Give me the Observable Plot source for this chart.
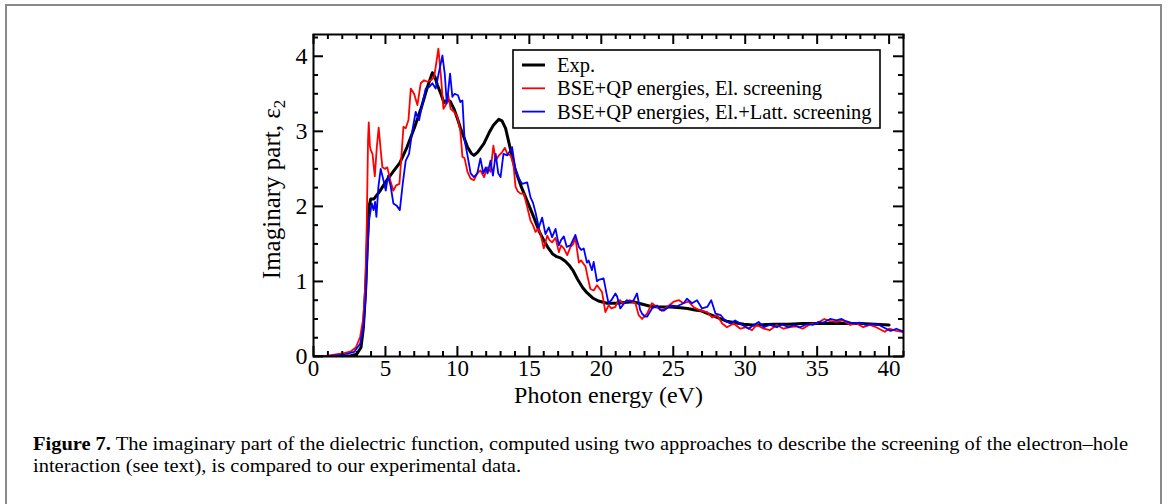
<!DOCTYPE html>
<html>
<head>
<meta charset="utf-8">
<script src="https://cdn.jsdelivr.net/npm/d3@7"></script>
<script src="https://cdn.jsdelivr.net/npm/@observablehq/plot@0.6"></script>
<style>
  html, body { margin: 0; padding: 0; background: white; overflow: hidden; }
  #wrap { position: relative; width: 1168px; height: 504px; }
  #frame { position: absolute; left: 5px; top: 4px; width: 1153px; height: 600px;
           border: 2px solid #8a8a8a; border-bottom: none; }
  #chart { position: absolute; left: 0; top: 0; }
  #caption { position: absolute; left: 0; top: 0; }
</style>
</head>
<body>
<div id="wrap">
  <div id="frame"></div>
  <div id="chart"></div>
  <svg id="caption" width="1168" height="504"></svg>
</div>
<script>
// ---------- data ----------
const seriesNames = ["Exp.", "BSE+QP energies, El. screening", "BSE+QP energies, El.+Latt. screening"];
const seriesColors = ["#000000", "#ff0000", "#0000ff"];
const seriesWidths = [3, 1.8, 1.8];

const xMajor = [0, 5, 10, 15, 20, 25, 30, 35, 40];
const xMinor = d3.range(0, 42, 1).filter(v => v % 5 !== 0);
const yMajor = [0, 1, 2, 3, 4];
const yMinor = [0.25, 0.5, 0.75, 1.25, 1.5, 1.75, 2.25, 2.5, 2.75, 3.25, 3.5, 3.75, 4.25];

const expData = [
  [0,0],[1,0],[2,0],[2.6,0.01],[3.0,0.03],[3.3,0.12],[3.47,0.39],[3.63,0.92],[3.75,1.55],[3.86,2.0],
  [3.98,2.1],[4.2,2.1],[4.6,2.2],[5.1,2.35],[5.6,2.48],[6.0,2.58],[6.5,2.79],[7.0,3.04],[7.5,3.32],
  [7.9,3.58],[8.26,3.78],[8.45,3.72],[8.6,3.62],[8.85,3.5],[9.07,3.38],[9.3,3.42],[9.5,3.4],[9.76,3.3],
  [10.0,3.17],[10.2,3.05],[10.45,2.92],[10.7,2.79],[10.95,2.71],[11.15,2.68],[11.4,2.72],[11.85,2.84],
  [12.2,2.98],[12.5,3.08],[12.88,3.16],[13.1,3.14],[13.35,3.04],[13.7,2.75],[14.0,2.5],[14.4,2.28],
  [14.85,2.07],[15.3,1.86],[15.7,1.66],[16.0,1.55],[16.3,1.45],[16.6,1.37],[16.9,1.33],[17.2,1.31],
  [17.5,1.27],[17.75,1.22],[18.05,1.14],[18.35,1.03],[18.7,0.92],[19.0,0.85],[19.4,0.78],[19.8,0.74],
  [20.4,0.71],[21.0,0.71],[21.6,0.72],[22.2,0.73],[22.8,0.7],[23.4,0.67],[24.0,0.66],[24.8,0.66],
  [25.5,0.65],[26.0,0.64],[26.5,0.62],[26.9,0.61],[27.4,0.57],[27.8,0.54],[28.3,0.5],[28.7,0.47],
  [29.3,0.45],[29.9,0.43],[30.5,0.42],[31.0,0.42],[32,0.43],[33,0.43],[34,0.44],[35,0.44],[36,0.44],
  [37,0.44],[38,0.44],[39,0.43],[40,0.42]
];

const elData = [
  [0,0],[1,0.01],[2,0.04],[2.6,0.07],[2.94,0.12],[3.24,0.26],[3.47,0.52],[3.61,1.01],[3.7,1.77],
  [3.79,2.88],[3.84,3.12],[3.92,2.8],[3.98,2.75],[4.1,2.7],[4.18,2.55],[4.26,2.4],[4.4,2.79],[4.53,3.05],
  [4.67,2.75],[4.79,2.52],[4.95,2.5],[5.13,2.52],[5.37,2.32],[5.55,2.21],[5.74,2.28],[5.97,2.3],
  [6.12,2.7],[6.25,3.06],[6.41,3.04],[6.6,3.15],[6.76,3.57],[6.99,3.5],[7.22,3.35],[7.45,3.64],
  [7.68,3.68],[7.92,3.66],[8.15,3.68],[8.38,3.72],[8.56,3.95],[8.68,4.1],[8.84,3.77],[9.03,3.3],
  [9.19,3.35],[9.35,3.5],[9.53,3.3],[9.77,3.26],[10.0,3.19],[10.2,3.01],[10.35,2.66],[10.5,2.64],
  [10.7,2.46],[10.92,2.37],[11.15,2.35],[11.38,2.44],[11.6,2.48],[11.85,2.39],[12.08,2.52],[12.3,2.46],
  [12.5,2.81],[12.66,2.61],[12.89,2.68],[13.1,2.72],[13.3,2.78],[13.47,2.7],[13.7,2.68],[13.9,2.55],
  [14.04,2.26],[14.2,2.2],[14.39,2.17],[14.62,2.17],[14.85,1.99],[15.08,1.81],[15.25,1.75],[15.43,1.66],
  [15.6,1.7],[15.77,1.64],[16.0,1.44],[16.24,1.61],[16.4,1.55],[16.58,1.52],[16.82,1.58],[17.05,1.39],
  [17.2,1.48],[17.4,1.44],[17.63,1.35],[17.86,1.46],[18.05,1.5],[18.2,1.58],[18.44,1.25],[18.6,1.28],
  [18.9,1.2],[19.05,1.06],[19.24,0.9],[19.47,0.88],[19.7,0.95],[20.05,0.86],[20.28,0.59],[20.51,0.68],
  [20.7,0.64],[20.98,0.66],[21.15,0.74],[21.32,0.75],[21.5,0.7],[21.67,0.73],[22.0,0.75],[22.2,0.72],
  [22.37,0.71],[22.6,0.55],[22.83,0.5],[23.18,0.57],[23.52,0.71],[23.87,0.66],[24.2,0.61],[24.57,0.66],
  [25.03,0.73],[25.4,0.75],[25.7,0.71],[26.07,0.73],[26.4,0.66],[26.9,0.61],[27.36,0.59],[27.7,0.52],
  [28.05,0.55],[28.4,0.44],[28.73,0.39],[29.2,0.44],[29.66,0.37],[30.1,0.39],[30.47,0.35],[30.8,0.42],
  [31.3,0.37],[31.7,0.35],[32.2,0.42],[32.66,0.37],[33.1,0.39],[33.56,0.4],[34.0,0.37],[34.5,0.43],
  [34.95,0.44],[35.5,0.5],[35.9,0.47],[36.35,0.46],[36.8,0.48],[37.3,0.42],[37.75,0.44],[38.2,0.39],
  [38.66,0.42],[39.1,0.39],[39.7,0.33],[40.0,0.37],[40.5,0.34],[40.85,0.33],[41,0.32]
];

const lattData = [
  [0,0],[1,0.005],[2,0.02],[2.82,0.06],[3.24,0.17],[3.47,0.39],[3.63,0.79],[3.75,1.37],[3.86,1.81],
  [3.93,1.9],[4.05,2.04],[4.17,1.95],[4.28,2.06],[4.37,1.86],[4.51,2.26],[4.67,2.5],[4.86,2.35],
  [5.02,2.21],[5.18,2.41],[5.37,2.26],[5.55,2.04],[5.78,2.01],[6.0,1.95],[6.2,2.3],[6.41,2.61],
  [6.64,2.7],[6.87,3.01],[7.1,3.26],[7.34,3.15],[7.57,3.37],[7.8,3.57],[8.03,3.59],[8.26,3.64],
  [8.49,3.57],[8.72,3.79],[8.96,4.01],[9.12,3.77],[9.26,3.37],[9.37,3.55],[9.49,3.77],[9.65,3.46],
  [9.81,3.5],[10.04,3.48],[10.2,3.39],[10.35,3.41],[10.5,2.88],[10.7,2.68],[10.92,2.44],[11.15,2.39],
  [11.38,2.44],[11.6,2.64],[11.8,2.44],[11.97,2.52],[12.1,2.44],[12.3,2.61],[12.47,2.41],[12.66,2.7],
  [12.84,2.44],[13.0,2.39],[13.2,2.7],[13.47,2.68],[13.8,2.79],[14.04,2.48],[14.25,2.38],[14.5,2.3],
  [14.85,2.32],[15.08,2.12],[15.25,2.05],[15.43,1.92],[15.66,1.72],[15.89,1.85],[16.12,1.63],
  [16.35,1.72],[16.58,1.59],[16.82,1.7],[17.05,1.48],[17.2,1.55],[17.4,1.6],[17.6,1.46],[17.86,1.48],
  [18.2,1.62],[18.44,1.46],[18.6,1.42],[18.78,1.44],[19.0,1.25],[19.12,1.28],[19.35,1.15],[19.47,1.26],
  [19.7,1.0],[19.82,1.02],[20.16,1.04],[20.35,0.85],[20.5,0.71],[20.7,0.75],[20.98,0.84],[21.1,0.8],
  [21.32,0.64],[21.55,0.7],[21.78,0.75],[22.0,0.73],[22.25,0.75],[22.48,0.84],[22.7,0.62],[22.83,0.57],
  [23.06,0.53],[23.18,0.53],[23.52,0.64],[23.87,0.68],[24.1,0.62],[24.33,0.61],[24.8,0.68],[25.26,0.67],
  [25.72,0.71],[25.95,0.77],[26.3,0.71],[26.65,0.75],[27.0,0.64],[27.36,0.66],[27.64,0.75],[27.94,0.57],
  [28.3,0.55],[28.6,0.48],[28.96,0.44],[29.3,0.48],[29.8,0.42],[30.24,0.37],[30.6,0.42],[30.93,0.46],
  [31.3,0.39],[31.7,0.42],[32.2,0.39],[32.55,0.43],[33.0,0.39],[33.35,0.42],[33.8,0.39],[34.3,0.43],
  [34.7,0.42],[35.07,0.46],[35.4,0.45],[35.9,0.5],[36.35,0.48],[36.7,0.5],[37.0,0.47],[37.5,0.44],
  [37.95,0.45],[38.4,0.42],[38.9,0.43],[39.3,0.42],[39.8,0.37],[40.1,0.34],[40.5,0.37],[40.9,0.34],[41,0.34]
];

const xLabel = "Photon energy (eV)";
const yLabel = "Imaginary part, ε";
const yLabelSub = "2";
const captionBold = "Figure 7.";
const captionLine1 = " The imaginary part of the dielectric function, computed using two approaches to describe the screening of the electron–hole";
const captionLine2 = "interaction (see text), is compared to our experimental data.";

// ---------- layout ----------
const W = 1168, H = 410;
const mL = 313, mR = 265, mT = 34, mB = 54;
const innerW = W - mL - mR, innerH = H - mT - mB;
const font = "'Liberation Serif', 'Times New Roman', serif";
const majorLen = 10, minorLen = 5;

const series = [expData, elData, lattData];

const plot = Plot.plot({
  width: W, height: H,
  marginLeft: mL, marginRight: mR, marginTop: mT, marginBottom: mB,
  x: {domain: [0, 41]},
  y: {domain: [0, 4.29]},
  style: {fontFamily: font, fontSize: "24px", color: "black", background: "transparent", overflow: "visible"},
  marks: [
    ...series.map((s, i) => Plot.line(s, {x: d => d[0], y: d => d[1], stroke: seriesColors[i], strokeWidth: seriesWidths[i], clip: true, curve: "linear"})),
    // inward ticks: bottom, top
    Plot.tickX(xMajor, {x: d => d, insetTop: innerH - majorLen, stroke: "black", strokeWidth: 2}),
    Plot.tickX(xMinor, {x: d => d, insetTop: innerH - minorLen, stroke: "black", strokeWidth: 2}),
    Plot.tickX(xMajor, {x: d => d, insetBottom: innerH - majorLen, stroke: "black", strokeWidth: 2}),
    Plot.tickX(xMinor, {x: d => d, insetBottom: innerH - minorLen, stroke: "black", strokeWidth: 2}),
    // inward ticks: left, right
    Plot.tickY(yMajor, {y: d => d, insetRight: innerW - majorLen, stroke: "black", strokeWidth: 2}),
    Plot.tickY(yMinor, {y: d => d, insetRight: innerW - minorLen, stroke: "black", strokeWidth: 2}),
    Plot.tickY(yMajor, {y: d => d, insetLeft: innerW - majorLen, stroke: "black", strokeWidth: 2}),
    Plot.tickY(yMinor, {y: d => d, insetLeft: innerW - minorLen, stroke: "black", strokeWidth: 2}),
    Plot.frame({stroke: "black", strokeWidth: 2}),
    Plot.axisX(xMajor, {anchor: "bottom", tickSize: 0, tickPadding: 3, label: null, fontSize: 23, tickFormat: d => String(d)}),
    Plot.axisY(yMajor, {anchor: "left", tickSize: 0, tickPadding: 6, label: null, fontSize: 24, tickFormat: d => String(d)}),
    Plot.text([xLabel], {text: d => d, frameAnchor: "bottom", dy: 46, fontSize: 24, textAnchor: "middle"}),
    Plot.text([yLabel], {text: d => d, frameAnchor: "left", dx: -42, dy: -6, rotate: -90, fontSize: 25, textAnchor: "middle"})
  ]
});
document.getElementById("chart").appendChild(plot);

// subscript on the y label
const svg = d3.select(plot);
svg.selectAll("text").filter(function() { return this.textContent === yLabel; })
  .each(function() {
    d3.select(this).append("tspan").attr("dy", "0.3em").attr("font-size", "17px").text(yLabelSub);
  });

// legend inside the plot
const lg = svg.append("g").style("font-family", font).style("font-size", "20.5px").attr("text-anchor", "start");
lg.append("rect").attr("x", 513).attr("y", 50).attr("width", 367).attr("height", 78)
  .attr("fill", "white").attr("stroke", "black").attr("stroke-width", 1.6);
seriesNames.forEach((name, i) => {
  const y = 65 + i * 23.3;
  lg.append("line").attr("x1", 522).attr("x2", 545).attr("y1", y).attr("y2", y)
    .attr("stroke", seriesColors[i]).attr("stroke-width", seriesWidths[i]);
  lg.append("text").attr("x", 557).attr("y", y).attr("dy", "0.35em").attr("fill", "black")
    .attr("text-anchor", "start").text(name);
});

// caption
const cap = d3.select("#caption").style("font-family", font).style("font-size", "18px");
const t1 = cap.append("text").attr("x", 33).attr("y", 450).attr("textLength", 1095).attr("lengthAdjust", "spacingAndGlyphs");
t1.append("tspan").style("font-weight", "bold").text(captionBold);
t1.append("tspan").text(captionLine1);
cap.append("text").attr("x", 33).attr("y", 472).attr("textLength", 488).attr("lengthAdjust", "spacingAndGlyphs").text(captionLine2);
</script>
</body>
</html>
